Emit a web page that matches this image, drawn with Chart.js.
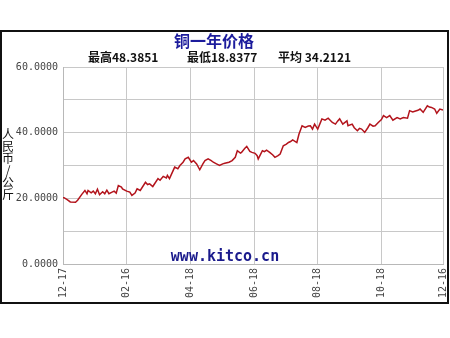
<!DOCTYPE html>
<html>
<head>
<meta charset="utf-8">
<script src="https://cdn.jsdelivr.net/npm/chart.js@4"></script>
<style>
  html, body { margin: 0; padding: 0; background: #fff; }
  #wrap { width: 450px; height: 338px; }
</style>
</head>
<body>
<div id="wrap"><canvas id="chart" width="450" height="338"></canvas></div>
<script>
// days counted from 12-17, copper price in yuan / kg
let days = [0, 1, 4, 7, 12, 14, 18, 21, 23, 24, 27, 29, 31, 33, 35, 38, 40, 42, 44, 47, 49, 51, 53, 56, 57,
    61, 64, 66, 69, 71, 74, 79, 81, 83, 86, 91, 93, 96, 99, 100, 102, 107, 110, 112, 115, 117, 120, 123,
    125, 128, 131, 134, 136, 139, 142, 144, 147, 150, 153, 155, 159, 162, 165, 167, 170, 171, 174, 176,
    179, 181, 184, 186, 187, 191, 193, 195, 198, 201, 203, 206, 208, 211, 214, 216, 218, 220, 224, 226,
    229, 232, 235, 237, 239, 241, 244, 248, 251, 254, 258, 261, 263, 265, 268, 272, 273, 277, 279, 282,
    284, 286, 289, 292, 294, 297, 299, 302, 305, 307, 310, 313, 316, 320, 323, 326, 330, 332, 335, 337,
    340, 342, 345, 349, 351, 353, 356, 358, 361, 364];
let prices = [20.2, 20.2, 19.6, 18.9, 18.8, 19.4, 21.2, 22.4, 21.4, 22.4, 21.7, 22.2, 21.4, 22.8, 21.1, 22.0,
    21.4, 22.5, 21.4, 21.9, 22.2, 21.6, 23.9, 23.4, 22.9,
    22.2, 21.9, 20.9, 21.6, 22.9, 22.4, 24.9, 24.2, 24.4, 23.6, 26.0, 25.5, 26.7, 26.2, 27.0, 26.0, 29.5,
    29.0, 30.0, 31.0, 32.0, 32.5, 31.0,
    31.5, 30.5, 28.7, 30.5, 31.5, 32.0, 31.5, 31.0, 30.5, 30.0, 30.5, 30.7, 31.0, 31.5, 32.5, 34.5, 33.8,
    34.0, 35.2, 35.8,
    34.3, 34.0, 33.7, 33.0, 32.0, 34.5, 34.2, 34.7, 34.0, 33.2, 32.5, 33.0, 33.5, 36.0, 36.5, 37.0, 37.3,
    37.8, 37.0, 39.5,
    42.1, 41.6, 42.0, 42.1, 41.1, 42.6, 41.1, 44.2, 43.8, 44.4, 43.1, 42.6, 43.5, 44.2, 42.6, 43.6, 42.1,
    42.6, 41.5, 40.6,
    41.3, 41.1, 40.1, 41.5, 42.6, 42.0, 42.1, 43.1, 44.0, 45.2, 44.6, 45.2, 43.8, 44.6, 44.2, 44.6, 44.4,
    46.7, 46.3, 46.5,
    46.8, 47.2, 46.2, 48.2, 47.8, 47.7, 47.2, 45.9, 47.2, 46.9];
let tickDays = [0, 61, 122, 183, 244, 305, 364];
let tickLabels = ["12-17", "02-16", "04-18", "06-18", "08-18", "10-18", "12-16"];
let title = "铜一年价格";
let stats = ["最高48.3851", "最低18.8377", "平均 34.2121"];
let yTitle = "人民币/公斤";
let site = "www.kitco.cn";

let points = days.map((d, i) => ({x: d, y: prices[i]}));

let decor = {
    id: "decor",
    beforeDraw(chart) {
        let c = chart.ctx;
        c.save();
        c.fillStyle = "#fff";
        c.fillRect(0, 0, chart.width, chart.height);
        c.restore();
    },
    afterDraw(chart) {
        let c = chart.ctx;
        c.save();
        // frame
        c.strokeStyle = "#111";
        c.lineWidth = 2;
        c.strokeRect(1, 31, 447, 272);
        // title
        c.fillStyle = "#1c1c9c";
        c.font = "bold 16px 'Noto Sans CJK SC'";
        c.textAlign = "center";
        c.textBaseline = "middle";
        c.fillText(title, 214, 41);
        // stats line
        c.fillStyle = "#111";
        c.font = "bold 12px 'Noto Sans CJK SC'";
        c.textAlign = "left";
        let xs = [88, 187, 278];
        stats.forEach((s, i) => c.fillText(s, xs[i], 57));
        // y title, stacked characters
        c.font = "12px 'Noto Sans CJK SC'";
        c.textAlign = "center";
        Array.from(yTitle).forEach((ch, i) => c.fillText(ch, 8, 134 + i * 12));
        // watermark
        c.fillStyle = "#1a1a8c";
        c.font = "bold 15px 'DejaVu Sans Mono'";
        c.fillText(site, 225, 257);
        c.restore();
    }
};

let ctx = document.getElementById("chart").getContext("2d");

let chart = new Chart(ctx, {
type: "line",
data: {
    datasets: [
        {
            label: "copper",
            data: points,
            borderColor: "#b3141c",
            borderWidth: 1.5,
            pointRadius: 0,
            tension: 0,
            fill: false,
        }
    ]
},
options: {
    responsive: false,
    animation: false,
    layout: {padding: {left: 0, top: 67, right: 0, bottom: 0}},
    plugins: {
        legend: {display: false},
        tooltip: {enabled: false},
    },
    scales: {
        x: {
            type: "linear",
            min: 0,
            max: 364,
            afterBuildTicks: s => { s.ticks = tickDays.map(v => ({value: v})); },
            afterFit: s => { s.height = 74; s.paddingRight = 7; },
            grid: {color: "#c8c8c8", drawTicks: false},
            border: {color: "#b8b8b8"},
            ticks: {
                autoSkip: false,
                minRotation: 90,
                maxRotation: 90,
                padding: 4,
                color: "#444",
                font: {family: "DejaVu Sans Mono", size: 10},
                callback: v => tickLabels[tickDays.indexOf(v)],
            },
        },
        y: {
            min: 0,
            max: 60,
            afterFit: s => { s.width = 63; },
            grid: {color: "#c8c8c8", drawTicks: false},
            border: {color: "#b8b8b8"},
            ticks: {
                stepSize: 10,
                padding: 5,
                color: "#444",
                font: {family: "DejaVu Sans Mono", size: 10},
                callback: v => (v % 20 === 0 ? v.toFixed(4) : ""),
            },
        }
    }
},
plugins: [decor]
});
</script>
</body>
</html>
